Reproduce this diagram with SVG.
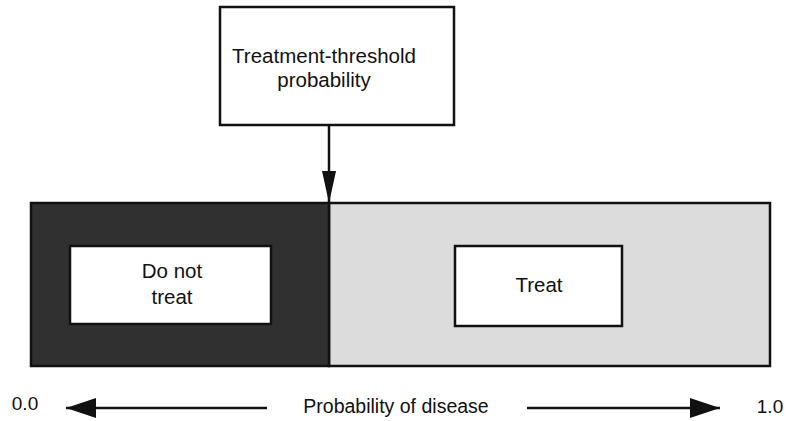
<svg xmlns="http://www.w3.org/2000/svg" width="791" height="421" viewBox="0 0 791 421">
<defs>
<style>
.box{fill:#fff;stroke:#111;stroke-width:2.5}
.t{font-family:"Liberation Sans",Arial,sans-serif;fill:#111;text-anchor:middle}
.ln{stroke:#111;stroke-width:2.5;fill:none}
</style>
<marker id="ah" viewBox="0 0 30 20" refX="30" refY="10" markerWidth="30" markerHeight="20" markerUnits="userSpaceOnUse" orient="auto">
<path d="M0,0 L30,10 L0,20 Z" fill="#111"/>
</marker>
<marker id="ahd" viewBox="0 0 14 32" refX="7" refY="32" markerWidth="14" markerHeight="32" markerUnits="userSpaceOnUse" orient="0">
<path d="M0,0 L14,0 L7,32 Z" fill="#111"/>
</marker>
</defs>
<rect width="791" height="421" fill="#fff"/>
<g id="regions">
<rect x="329" y="203" width="441" height="163" fill="#dcdcdc" stroke="#111" stroke-width="2.5"/>
<rect x="31" y="203" width="298" height="163" fill="#303030" stroke="#111" stroke-width="2.5"/>
</g>
<g id="threshold">
<rect class="box" x="220" y="7" width="234" height="118"/>
<text class="t" x="324" y="63" font-size="20.5">Treatment-threshold</text>
<text class="t" x="324" y="87" font-size="20.5">probability</text>
</g>
<g id="do-not-treat">
<rect class="box" x="70" y="246" width="201" height="78"/>
<text class="t" x="172" y="278" font-size="20.5">Do not</text>
<text class="t" x="172" y="304" font-size="20.5">treat</text>
</g>
<g id="treat">
<rect class="box" x="455" y="246" width="167" height="80"/>
<text class="t" x="539" y="292" font-size="20.5">Treat</text>
</g>
<g id="axis-labels">
<text class="t" x="25" y="410" font-size="19">0.0</text>
<text class="t" x="396" y="413" font-size="19.5">Probability of disease</text>
<text class="t" x="770" y="413" font-size="19">1.0</text>
</g>
<g id="connectors">
<line class="ln" x1="329" y1="125" x2="329" y2="203" marker-end="url(#ahd)"/>
<line class="ln" x1="267" y1="408" x2="66" y2="408" marker-end="url(#ah)"/>
<line class="ln" x1="527" y1="408" x2="720" y2="408" marker-end="url(#ah)"/>
</g>
</svg>
